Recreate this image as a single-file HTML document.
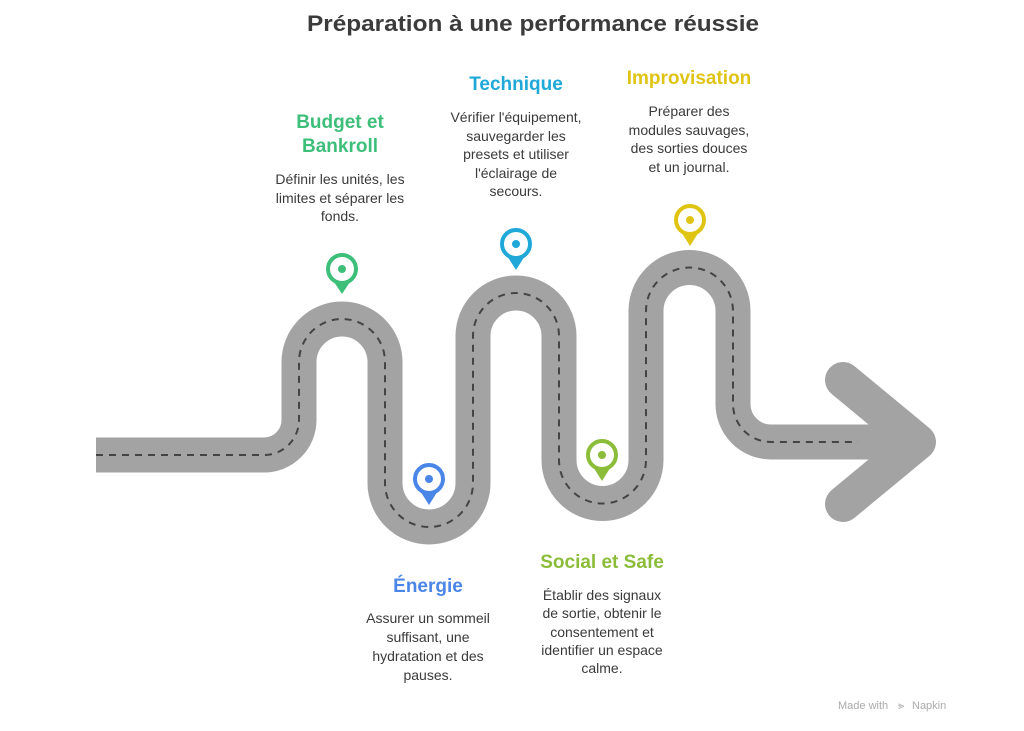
<!DOCTYPE html>
<html><head><meta charset="utf-8"><style>
html,body{margin:0;padding:0;background:#fff;}
svg{display:block;}
text{font-family:"Liberation Sans",sans-serif;}
.d{font-size:14px;fill:#3a3a3a;text-anchor:middle;}
.h{font-size:19px;font-weight:bold;text-anchor:middle;}
</style></head><body>
<svg width="1024" height="731" viewBox="0 0 1024 731" xmlns="http://www.w3.org/2000/svg">
<text x="533" y="31" text-anchor="middle" font-size="22" font-weight="bold" fill="#3b3b3b" textLength="452" lengthAdjust="spacingAndGlyphs">Préparation à une performance réussie</text>

<path d="M96 455 H264 A35 35 0 0 0 299 420 V362 A43 43 0 0 1 385 362 V483 A44 44 0 0 0 473 483 V336 A43 43 0 0 1 559 336 V460 A43.5 43.5 0 0 0 646 460 V311 A43 43 0 0 1 733 311 V404 A38 38 0 0 0 771 442 H905" fill="none" stroke="#a3a3a3" stroke-width="35"/>
<polyline points="843,380 918,442 843,504" fill="none" stroke="#a3a3a3" stroke-width="36" stroke-linecap="round" stroke-linejoin="round"/>
<path d="M96 455 H264 A35 35 0 0 0 299 420 V362 A43 43 0 0 1 385 362 V483 A44 44 0 0 0 473 483 V336 A43 43 0 0 1 559 336 V460 A43.5 43.5 0 0 0 646 460 V311 A43 43 0 0 1 733 311 V404 A38 38 0 0 0 771 442 H858" fill="none" stroke="#444" stroke-width="2" stroke-dasharray="7 6"/>

<g>
<path d="M330 276 L342 294 L354 276 Z" fill="#3dbf7a"/><circle cx="342" cy="269" r="14" fill="#fff" stroke="#3dbf7a" stroke-width="4"/><circle cx="342" cy="269" r="4" fill="#3dbf7a"/>
<path d="M417 486 L429 505 L441 486 Z" fill="#4a86e8"/><circle cx="429" cy="479" r="14" fill="#fff" stroke="#4a86e8" stroke-width="4"/><circle cx="429" cy="479" r="4" fill="#4a86e8"/>
<path d="M504 251 L516 270 L528 251 Z" fill="#1fa8d8"/><circle cx="516" cy="244" r="14" fill="#fff" stroke="#1fa8d8" stroke-width="4"/><circle cx="516" cy="244" r="4" fill="#1fa8d8"/>
<path d="M590 462 L602 481 L614 462 Z" fill="#8bbd3a"/><circle cx="602" cy="455" r="14" fill="#fff" stroke="#8bbd3a" stroke-width="4"/><circle cx="602" cy="455" r="4" fill="#8bbd3a"/>
<path d="M678 227 L690 246 L702 227 Z" fill="#e0c414"/><circle cx="690" cy="220" r="14" fill="#fff" stroke="#e0c414" stroke-width="4"/><circle cx="690" cy="220" r="4" fill="#e0c414"/>
</g>

<text class="h" fill="#3dbf7a" x="340" y="128">Budget et</text>
<text class="h" fill="#3dbf7a" x="340" y="152">Bankroll</text>
<text class="d" x="340" y="184">Définir les unités, les</text>
<text class="d" x="340" y="203">limites et séparer les</text>
<text class="d" x="340" y="221">fonds.</text>

<text class="h" fill="#1fa8d8" x="516" y="90">Technique</text>
<text class="d" x="516" y="122">Vérifier l'équipement,</text>
<text class="d" x="516" y="141">sauvegarder les</text>
<text class="d" x="516" y="159">presets et utiliser</text>
<text class="d" x="516" y="178">l'éclairage de</text>
<text class="d" x="516" y="196">secours.</text>

<text class="h" fill="#e0c414" x="689" y="84">Improvisation</text>
<text class="d" x="689" y="116">Préparer des</text>
<text class="d" x="689" y="135">modules sauvages,</text>
<text class="d" x="689" y="153">des sorties douces</text>
<text class="d" x="689" y="172">et un journal.</text>

<text class="h" fill="#4a86e8" x="428" y="592">Énergie</text>
<text class="d" x="428" y="623">Assurer un sommeil</text>
<text class="d" x="428" y="642">suffisant, une</text>
<text class="d" x="428" y="661">hydratation et des</text>
<text class="d" x="428" y="680">pauses.</text>

<text class="h" fill="#8bbd3a" x="602" y="568">Social et Safe</text>
<text class="d" x="602" y="600">Établir des signaux</text>
<text class="d" x="602" y="618">de sortie, obtenir le</text>
<text class="d" x="602" y="637">consentement et</text>
<text class="d" x="602" y="655">identifier un espace</text>
<text class="d" x="602" y="673">calme.</text>

<text x="838" y="709" font-size="11" fill="#aaa">Made with</text>
<text x="898" y="709" font-size="11" fill="#aaa">⪢</text>
<text x="912" y="709" font-size="11" fill="#aaa">Napkin</text>
</svg>
</body></html>
